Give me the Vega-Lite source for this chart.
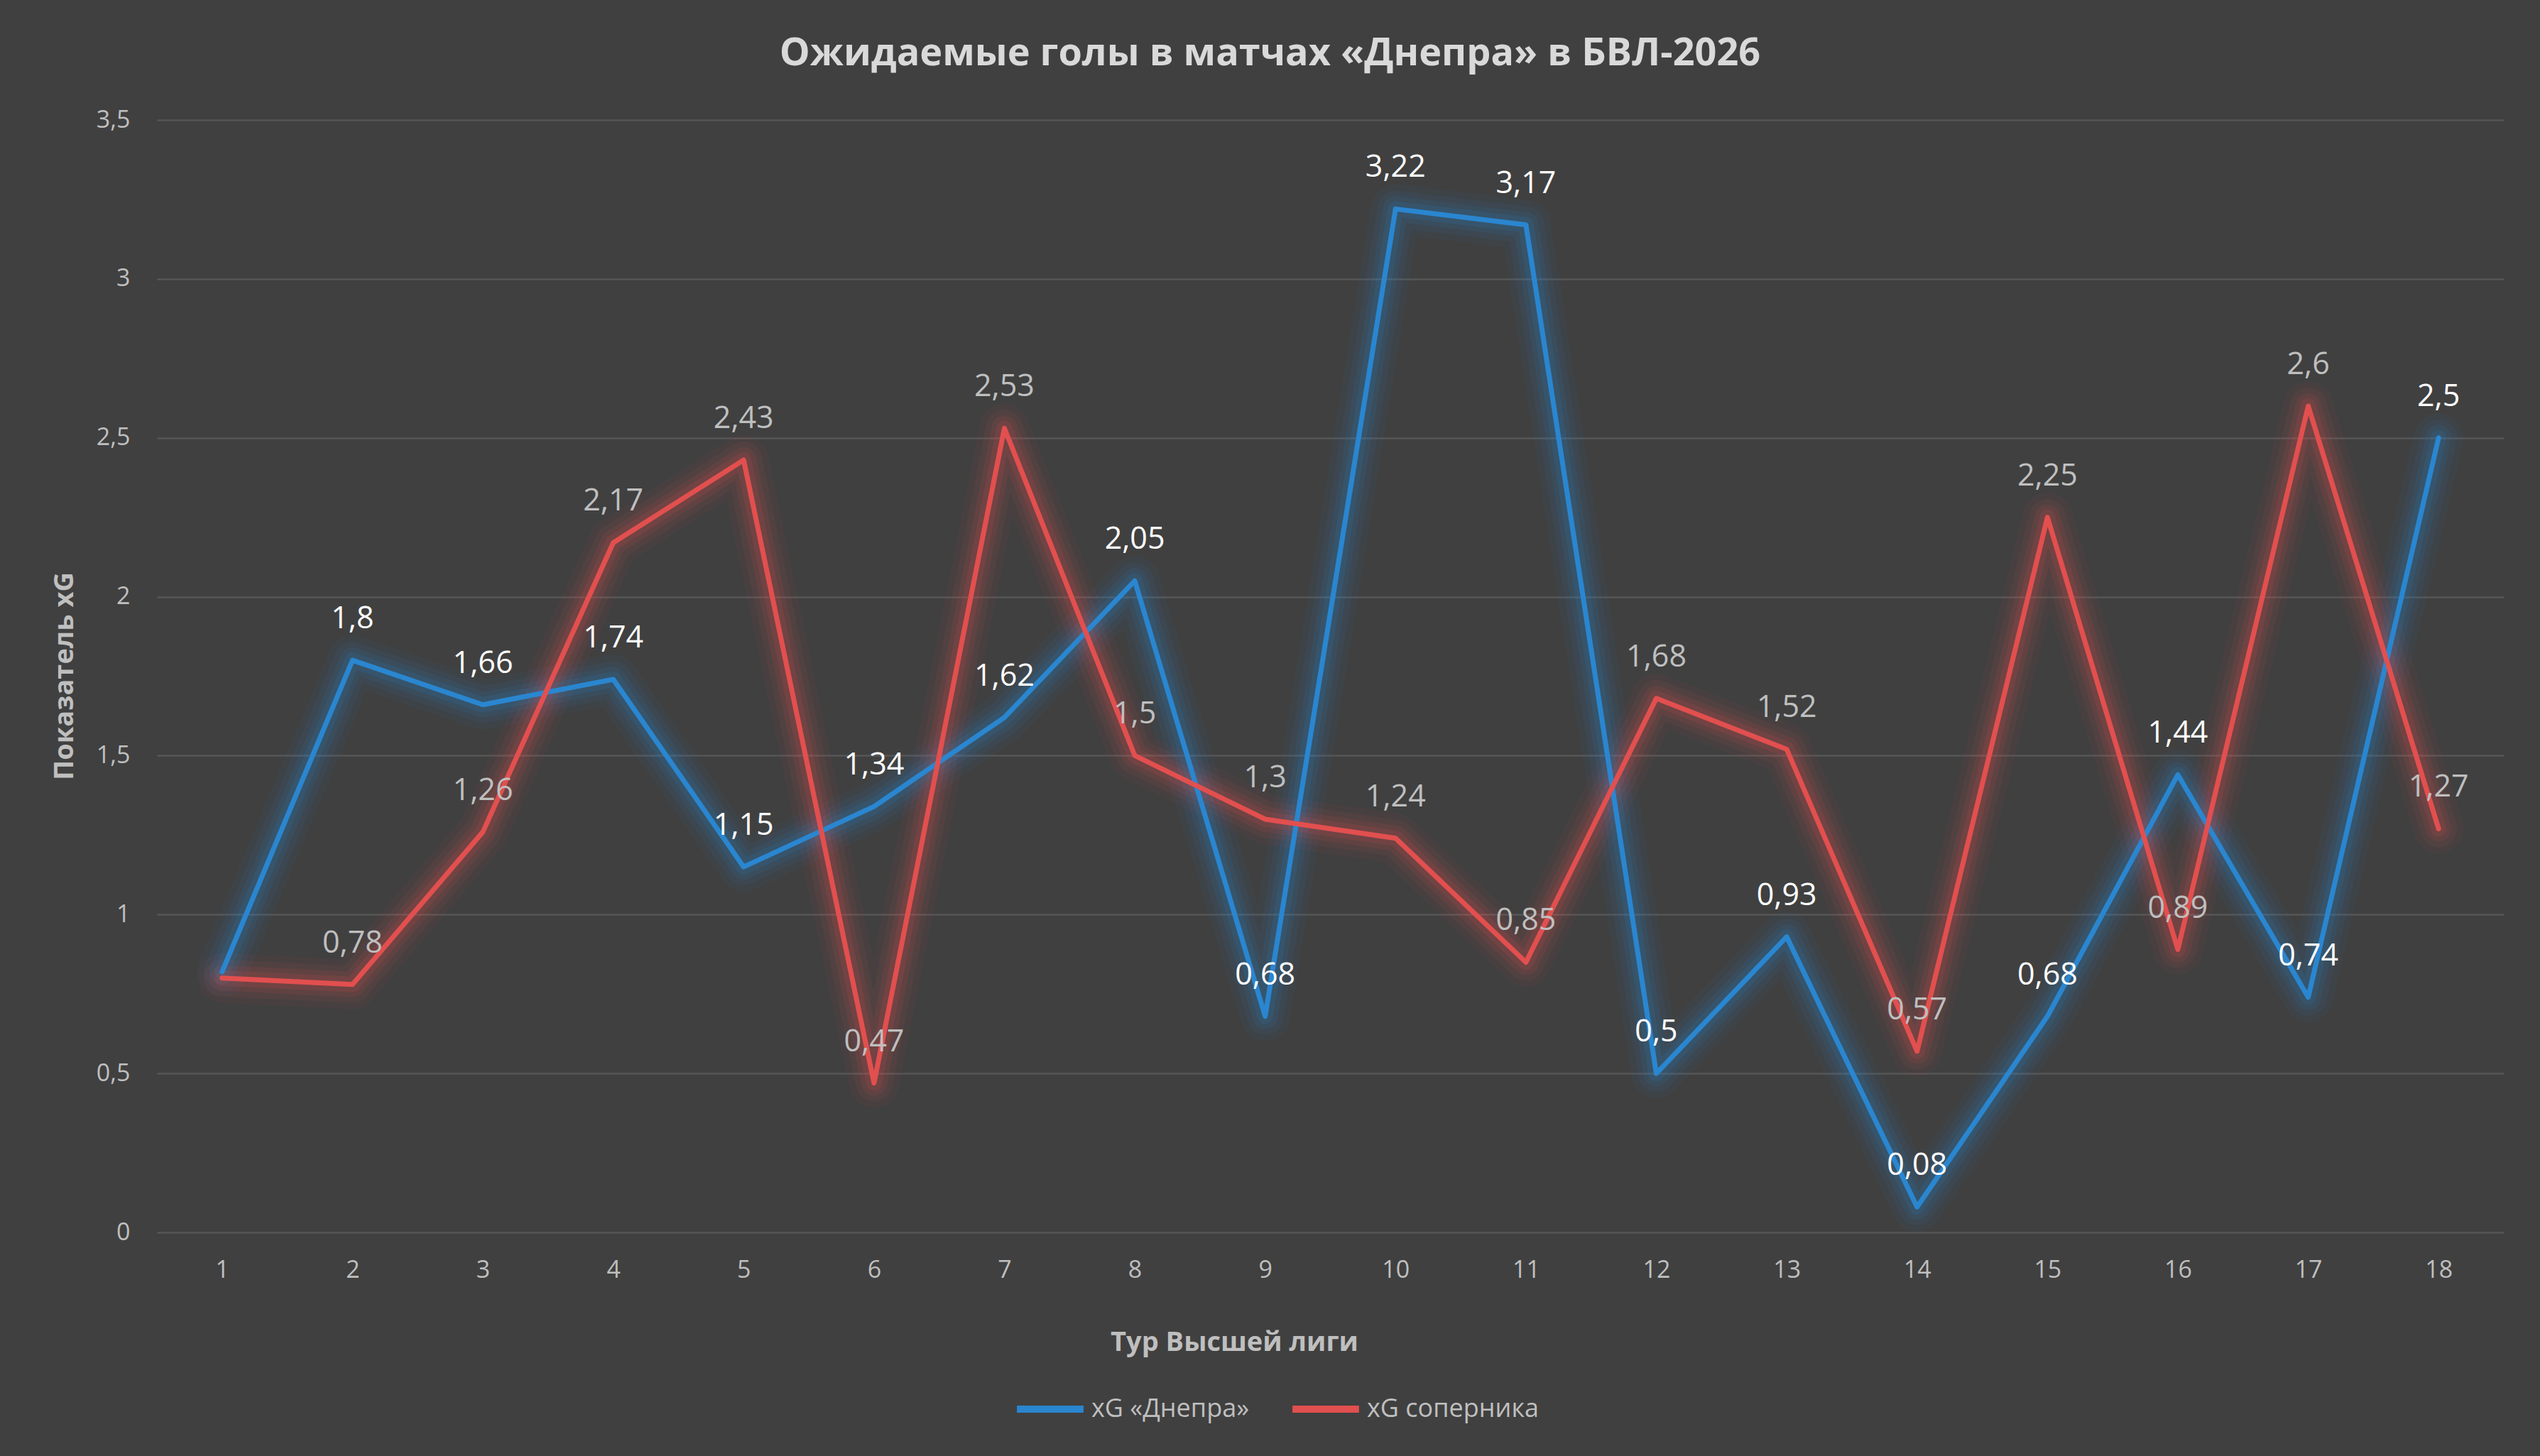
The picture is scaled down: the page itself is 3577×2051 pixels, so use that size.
{
  "$schema": "https://vega.github.io/schema/vega-lite/v6.json",
  "autosize": {"type": "none"},
  "width": 3305,
  "height": 1567,
  "padding": {"left": 221, "top": 169, "right": 51, "bottom": 315},
  "background": "#404040",
  "title": {
    "text": "Ожидаемые голы в матчах «Днепра» в БВЛ-2026",
    "anchor": "middle",
    "frame": "group",
    "dx": -85,
    "offset": 6,
    "baseline": "alphabetic",
    "font": "Open Sans",
    "fontSize": 54,
    "fontWeight": "bold",
    "color": "#d9d9d9"
  },
  "data": {
    "values": [
      {"tour": 1, "series": "xG «Днепра»", "xg": 0.82},
      {"tour": 2, "series": "xG «Днепра»", "xg": 1.8},
      {"tour": 3, "series": "xG «Днепра»", "xg": 1.66},
      {"tour": 4, "series": "xG «Днепра»", "xg": 1.74},
      {"tour": 5, "series": "xG «Днепра»", "xg": 1.15},
      {"tour": 6, "series": "xG «Днепра»", "xg": 1.34},
      {"tour": 7, "series": "xG «Днепра»", "xg": 1.62},
      {"tour": 8, "series": "xG «Днепра»", "xg": 2.05},
      {"tour": 9, "series": "xG «Днепра»", "xg": 0.68},
      {"tour": 10, "series": "xG «Днепра»", "xg": 3.22},
      {"tour": 11, "series": "xG «Днепра»", "xg": 3.17},
      {"tour": 12, "series": "xG «Днепра»", "xg": 0.5},
      {"tour": 13, "series": "xG «Днепра»", "xg": 0.93},
      {"tour": 14, "series": "xG «Днепра»", "xg": 0.08},
      {"tour": 15, "series": "xG «Днепра»", "xg": 0.68},
      {"tour": 16, "series": "xG «Днепра»", "xg": 1.44},
      {"tour": 17, "series": "xG «Днепра»", "xg": 0.74},
      {"tour": 18, "series": "xG «Днепра»", "xg": 2.5},
      {"tour": 1, "series": "xG соперника", "xg": 0.8},
      {"tour": 2, "series": "xG соперника", "xg": 0.78},
      {"tour": 3, "series": "xG соперника", "xg": 1.26},
      {"tour": 4, "series": "xG соперника", "xg": 2.17},
      {"tour": 5, "series": "xG соперника", "xg": 2.43},
      {"tour": 6, "series": "xG соперника", "xg": 0.47},
      {"tour": 7, "series": "xG соперника", "xg": 2.53},
      {"tour": 8, "series": "xG соперника", "xg": 1.5},
      {"tour": 9, "series": "xG соперника", "xg": 1.3},
      {"tour": 10, "series": "xG соперника", "xg": 1.24},
      {"tour": 11, "series": "xG соперника", "xg": 0.85},
      {"tour": 12, "series": "xG соперника", "xg": 1.68},
      {"tour": 13, "series": "xG соперника", "xg": 1.52},
      {"tour": 14, "series": "xG соперника", "xg": 0.57},
      {"tour": 15, "series": "xG соперника", "xg": 2.25},
      {"tour": 16, "series": "xG соперника", "xg": 0.89},
      {"tour": 17, "series": "xG соперника", "xg": 2.6},
      {"tour": 18, "series": "xG соперника", "xg": 1.27}
    ]
  },
  "encoding": {
    "x": {
      "field": "tour",
      "type": "ordinal",
      "scale": {"type": "point", "padding": 0.5},
      "axis": {
        "title": "Тур Высшей лиги",
        "labelAngle": 0,
        "labelPadding": 36,
        "ticks": false,
        "domain": false,
        "grid": false,
        "titleX": 1517,
        "titleY": 155,
        "titleBaseline": "middle"
      }
    },
    "y": {
      "field": "xg",
      "type": "quantitative",
      "scale": {"domain": [0, 3.5], "nice": false},
      "axis": {
        "title": "Показатель xG",
        "values": [0, 0.5, 1, 1.5, 2, 2.5, 3, 3.5],
        "labelExpr": "replace(toString(datum.value), '.', ',')",
        "labelPadding": 38,
        "ticks": false,
        "domain": false,
        "gridColor": "#565656",
        "gridWidth": 2.5,
        "titleX": -130,
        "titleY": 783,
        "titleAngle": -90,
        "titleAlign": "center",
        "titleBaseline": "middle"
      }
    },
    "color": {
      "field": "series",
      "type": "nominal",
      "scale": {
        "domain": ["xG «Днепра»", "xG соперника"],
        "range": ["#2a86d0", "#e24f4f"]
      },
      "legend": {
        "title": null,
        "orient": "none",
        "direction": "horizontal",
        "legendX": 1206,
        "legendY": 1764,
        "symbolType": "stroke",
        "symbolSize": 8800,
        "symbolStrokeWidth": 10,
        "symbolOpacity": 1,
        "labelFont": "Open Sans",
        "labelFontSize": 36,
        "labelColor": "#bfbfbf",
        "labelLimit": 0,
        "labelOffset": 6,
        "columnPadding": 40
      }
    }
  },
  "layer": [
    {"mark": {"type": "line", "strokeWidth": 70, "opacity": 0.05, "strokeJoin": "round", "strokeCap": "round"}},
    {"mark": {"type": "line", "strokeWidth": 52, "opacity": 0.07, "strokeJoin": "round", "strokeCap": "round"}},
    {"mark": {"type": "line", "strokeWidth": 36, "opacity": 0.1, "strokeJoin": "round", "strokeCap": "round"}},
    {"mark": {"type": "line", "strokeWidth": 22, "opacity": 0.14, "strokeJoin": "round", "strokeCap": "round"}},
    {"mark": {"type": "line", "strokeWidth": 7, "opacity": 1, "strokeJoin": "round", "strokeCap": "round"}},
    {
      "transform": [
        {"filter": "datum.tour != 1"},
        {"calculate": "replace(toString(datum.xg), '.', ',')", "as": "label"}
      ],
      "mark": {"type": "text", "font": "Open Sans", "fontSize": 43, "baseline": "middle", "dy": -58},
      "encoding": {
        "text": {"field": "label", "type": "nominal"},
        "color": {
          "condition": {"test": "datum.series === 'xG соперника'", "value": "#bfbfbf"},
          "value": "#ffffff"
        }
      }
    }
  ],
  "config": {
    "view": {"stroke": null},
    "axis": {
      "labelFont": "Open Sans",
      "labelFontSize": 34,
      "labelColor": "#bfbfbf",
      "titleFont": "Open Sans",
      "titleFontSize": 38,
      "titleFontWeight": "bold",
      "titleColor": "#bfbfbf"
    }
  }
}
